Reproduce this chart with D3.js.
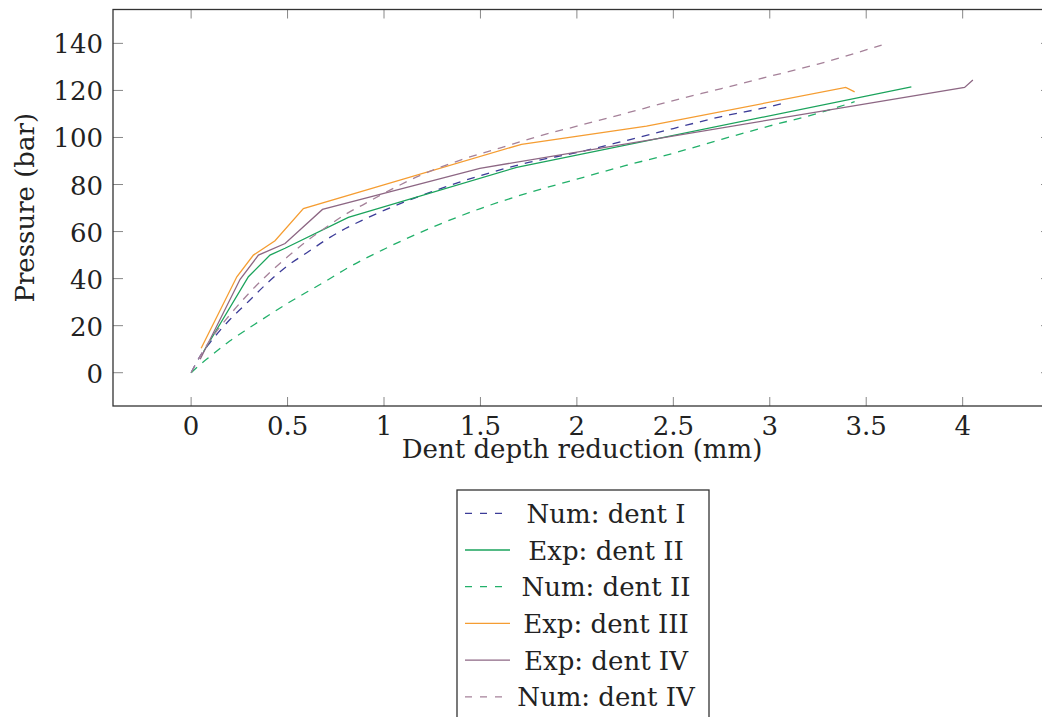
<!DOCTYPE html>
<html>
<head>
<meta charset="utf-8">
<script src="https://cdn.jsdelivr.net/npm/d3@7"></script>
<style>
  body { margin: 0; background: #fff; }
  text { font-family: "DejaVu Serif", serif; fill: #222; }
</style>
</head>
<body>
<svg id="chart" width="1042" height="717"></svg>
<script>
// values: [dent depth reduction (mm), pressure (bar)]
const numDentI = [[0,0],[0.05,7.5],[0.1,13],[0.15,18],[0.2,22.5],[0.3,30.5],[0.4,38.5],[0.5,45.5],[0.6,51],[0.7,56.5],[0.8,61.3],[0.9,65.3],[1.0,69],[1.25,77],[1.5,83.8],[1.75,89.4],[2.0,93.6],[2.25,98.6],[2.5,103.8],[2.75,108.9],[3.0,113.1],[3.09,114.9]];
const expDentII = [[0.064,8.9],[0.297,40.8],[0.409,50],[0.487,52.9],[0.815,66],[1.688,87.3],[3.734,121.5]];
const numDentII = [[0,0],[0.05,3.7],[0.1,7],[0.2,13.5],[0.3,19],[0.4,24.3],[0.5,29.5],[0.6,34.3],[0.7,39],[0.8,44],[1.0,52.5],[1.25,61.8],[1.5,69.8],[1.75,76.5],[2.0,82.3],[2.25,88],[2.5,93.3],[2.75,99.2],[3.0,104.9],[3.25,110.3],[3.44,115.2]];
const expDentIII = [[0.052,10.4],[0.237,40.8],[0.323,50],[0.435,56.1],[0.582,69.8],[1.713,97.1],[2.361,104.8],[3.394,121.3],[3.44,119.4]];
const expDentIV = [[0.047,5.7],[0.254,39.7],[0.349,50],[0.487,54.9],[0.681,69.4],[1.497,86.9],[4.01,121.3],[4.053,124.4]];
const numDentIV = [[0,0],[0.05,7.5],[0.1,14],[0.2,24.5],[0.3,33.8],[0.4,42],[0.5,49.3],[0.6,56],[0.7,61.8],[0.8,67.3],[0.9,71.8],[1.0,76.3],[1.2,84.3],[1.4,90.5],[1.6,95.5],[1.8,100.5],[2.0,104.8],[2.25,110.2],[2.5,115.7],[2.75,120.8],[3.0,126],[3.25,131.2],[3.58,139.3]];

const xTicks = [0, 0.5, 1, 1.5, 2, 2.5, 3, 3.5, 4];
const yTicks = [0, 20, 40, 60, 80, 100, 120, 140];

const series = [
  {name: "Num: dent I",   data: numDentI,   color: "#3c3c98", dashed: true,  smooth: true},
  {name: "Exp: dent II",  data: expDentII,  color: "#1ba35c", dashed: false, smooth: false},
  {name: "Num: dent II",  data: numDentII,  color: "#22b06a", dashed: true,  smooth: true},
  {name: "Exp: dent III", data: expDentIII, color: "#f59d32", dashed: false, smooth: false},
  {name: "Exp: dent IV",  data: expDentIV,  color: "#8d6784", dashed: false, smooth: false},
  {name: "Num: dent IV",  data: numDentIV,  color: "#a58199", dashed: true,  smooth: true}
];

const svg = d3.select("#chart");
const pLeft = 113, pRight = 1051, pTop = 9.5, pBottom = 406;

const x = d3.scaleLinear().domain([-0.405, 4.458]).range([pLeft, pRight]);
const y = d3.scaleLinear().domain([-14.15, 154.4]).range([pBottom, pTop]);

svg.append("clipPath").attr("id", "clip")
  .append("rect").attr("x", pLeft).attr("y", pTop)
  .attr("width", pRight - pLeft).attr("height", pBottom - pTop);

// ticks (inside, on all sides like pgfplots)
const tickG = svg.append("g").attr("stroke", "#888").attr("stroke-width", 1);
xTicks.forEach(t => {
  tickG.append("line").attr("x1", x(t)).attr("x2", x(t)).attr("y1", pBottom).attr("y2", pBottom - 9);
  tickG.append("line").attr("x1", x(t)).attr("x2", x(t)).attr("y1", pTop).attr("y2", pTop + 9);
});
yTicks.forEach(t => {
  tickG.append("line").attr("x1", pLeft).attr("x2", pLeft + 10).attr("y1", y(t)).attr("y2", y(t));
  tickG.append("line").attr("x1", pRight).attr("x2", pRight - 10).attr("y1", y(t)).attr("y2", y(t));
});

// tick labels
svg.append("g").selectAll("text").data(xTicks).join("text")
  .attr("x", d => x(d)).attr("y", 435)
  .attr("text-anchor", "middle").style("font-size", "26px")
  .text(d => d);

svg.append("g").selectAll("text").data(yTicks).join("text")
  .attr("x", 103).attr("y", d => y(d) + 10)
  .attr("text-anchor", "end").style("font-size", "26px")
  .text(d => d);

// lines
const plot = svg.append("g").attr("clip-path", "url(#clip)");
series.forEach(s => {
  const line = d3.line()
    .x(d => x(d[0])).y(d => y(d[1]))
    .curve(s.smooth ? d3.curveMonotoneX : d3.curveLinear);
  plot.append("path")
    .datum(s.data)
    .attr("d", line)
    .attr("fill", "none")
    .attr("stroke", s.color)
    .attr("stroke-width", 1.3)
    .attr("stroke-dasharray", s.dashed ? "8,7" : null);
});

// frame
svg.append("rect")
  .attr("x", pLeft).attr("y", pTop)
  .attr("width", pRight - pLeft).attr("height", pBottom - pTop)
  .attr("fill", "none").attr("stroke", "#333").attr("stroke-width", 1.3);

// axis labels
svg.append("text")
  .attr("x", (pLeft + pRight) / 2).attr("y", 458)
  .attr("text-anchor", "middle").style("font-size", "26px")
  .text("Dent depth reduction (mm)");

svg.append("text")
  .attr("transform", "translate(34," + ((pTop + pBottom) / 2) + ")rotate(-90)")
  .attr("text-anchor", "middle").style("font-size", "26px")
  .text("Pressure (bar)");

// legend
const lg = svg.append("g");
lg.append("rect")
  .attr("x", 457).attr("y", 490).attr("width", 252).attr("height", 260)
  .attr("fill", "#fff").attr("stroke", "#333").attr("stroke-width", 1.3);

series.forEach((s, i) => {
  const cy = 513.3 + i * 36.7;
  lg.append("line")
    .attr("x1", 465).attr("x2", 510).attr("y1", cy).attr("y2", cy)
    .attr("stroke", s.color).attr("stroke-width", 1.3)
    .attr("stroke-dasharray", s.dashed ? "7,8" : null);
  lg.append("text")
    .attr("x", 606).attr("y", cy + 9.5)
    .attr("text-anchor", "middle").style("font-size", "26px")
    .text(s.name);
});
</script>
</body>
</html>
